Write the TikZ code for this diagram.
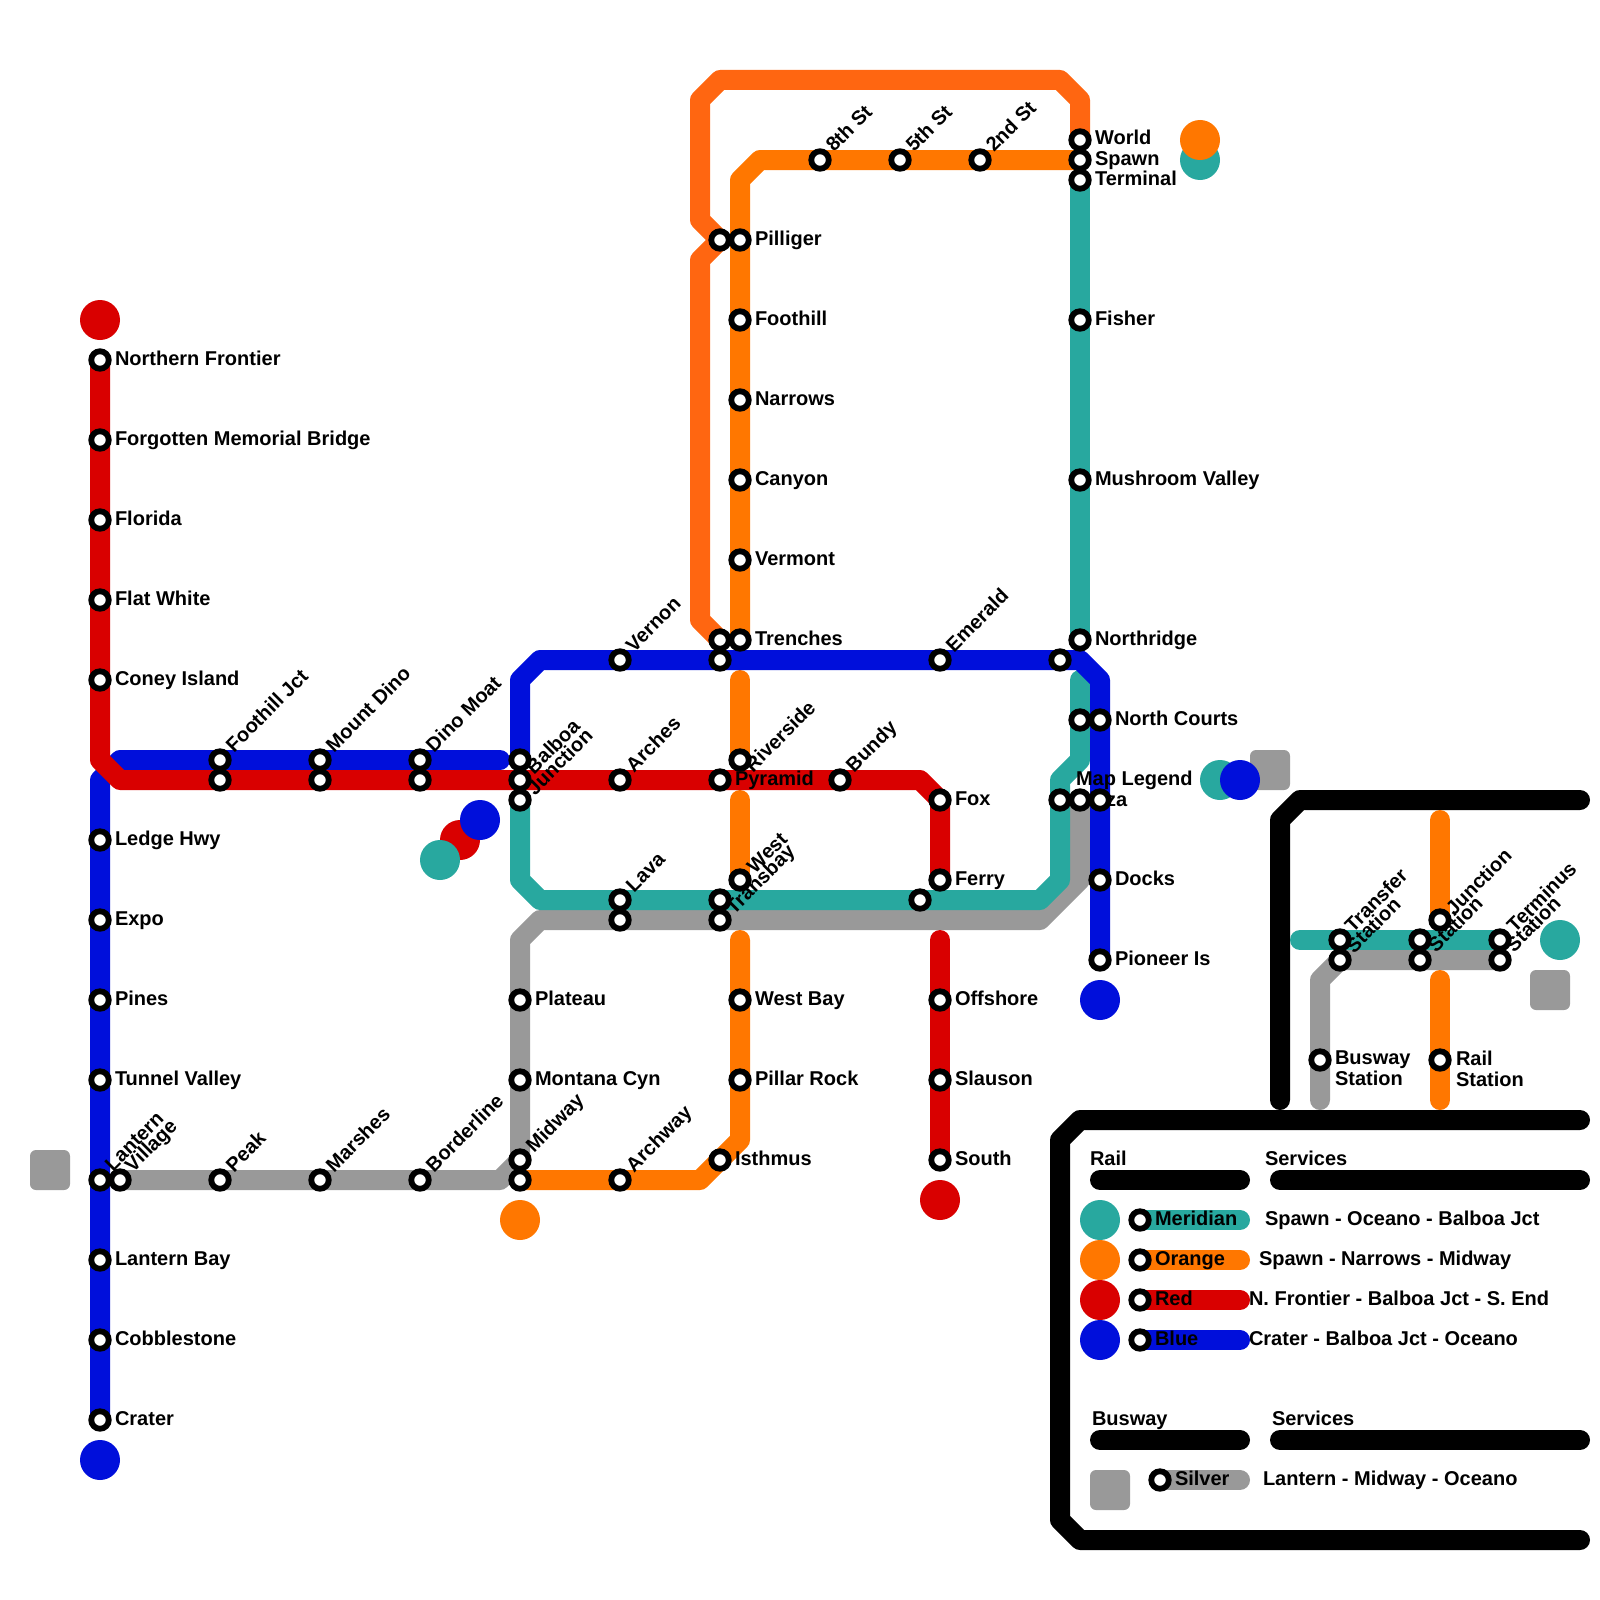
\documentclass[tikz,border=0pt]{standalone}
\usepackage{fontspec}
\setmainfont{Liberation Sans}[BoldFont={Liberation Sans Bold}]
\definecolor{cteal}{HTML}{28A89F}
\definecolor{corange}{HTML}{FF7700}
\definecolor{cdark}{HTML}{FF6611}
\definecolor{cred}{HTML}{D90000}
\definecolor{cblue}{HTML}{000FDB}
\definecolor{cgray}{HTML}{999999}
\pgfdeclarelayer{lines}
\pgfdeclarelayer{stations}
\pgfsetlayers{lines,main,stations}
\tikzset{
  metro/.style={line width=20pt,line cap=round,line join=round},
  stationdot/.style={circle,draw=black,fill=white,line width=5.8pt,minimum size=17.5pt,inner sep=0pt,outer sep=0pt},
  lbl/.style={font=\fontsize{20}{21}\selectfont\bfseries,inner sep=0pt,outer sep=0pt,text=black},
  lblR/.style={lbl,anchor=base west},
  lblD/.style={lbl,anchor=base west,rotate=45},
  endball/.style={circle,fill=#1,minimum size=40pt,inner sep=0pt,outer sep=0pt},
  endsq/.style={rectangle,rounded corners=6pt,fill=cgray,minimum size=40pt,inner sep=0pt,outer sep=0pt}
}
% station only
\newcommand{\stn}[3]{\begin{pgfonlayer}{stations}\node[stationdot] (#1) at (#2,#3) {};\end{pgfonlayer}}
% station with a label on its right
\newcommand{\stnR}[4]{\stn{#1}{#2}{#3}\node[lblR] (#1-l) at (#2+15,#3+5) {#4};}
% station with a diagonal label
\newcommand{\stnD}[4]{\stn{#1}{#2}{#3}\node[lblD] (#1-l) at (#2+14,#3-7) {#4};}
\begin{document}
\begin{tikzpicture}[x=1pt,y=-1pt]
\useasboundingbox (0,0) rectangle (1600,1600);
% Red west
\stnR{nf}{100}{360}{Northern Frontier}
\stnR{fmb}{100}{440}{Forgotten Memorial Bridge}
\stnR{flo}{100}{520}{Florida}
\stnR{flw}{100}{600}{Flat White}
\stnR{con}{100}{680}{Coney Island}
\stnD{fj}{220}{760}{Foothill Jct}
\stn{fjb}{220}{780}
\stnD{md}{320}{760}{Mount Dino}
\stn{mdb}{320}{780}
\stnD{dm}{420}{760}{Dino Moat}
\stn{dmb}{420}{780}
\stn{bal}{520}{760}
\stn{jun}{520}{780}
\stn{bal3}{520}{800}
\node[lblD] (bal-l) at (534,775) {Balboa};
\node[lblD] (jun-l) at (535,796) {Junction};
\stnD{arc}{620}{780}{Arches}
\stnR{pyr}{720}{780}{Pyramid}
\stn{riv}{740}{760}
\node[lblD] (riv-l) at (753,773) {Riverside};
\stnD{bun}{840}{780}{Bundy}
\stnR{fox}{940}{800}{Fox}
\stnR{fer}{940}{880}{Ferry}
\stnR{off}{940}{1000}{Offshore}
\stnR{sla}{940}{1080}{Slauson}
\stnR{sou}{940}{1160}{South}
% Blue
\stnR{led}{100}{840}{Ledge Hwy}
\stnR{exp}{100}{920}{Expo}
\stnR{pin}{100}{1000}{Pines}
\stnR{tun}{100}{1080}{Tunnel Valley}
\stn{lan}{100}{1180}
\node[lblD] (lan-l) at (113,1172) {Lantern};
\stnR{lab}{100}{1260}{Lantern Bay}
\stnR{cob}{100}{1340}{Cobblestone}
\stnR{cra}{100}{1420}{Crater}
\stnD{ver}{620}{660}{Vernon}
\stn{vb}{720}{660}
\stnD{eme}{940}{660}{Emerald}
\stn{nb}{1060}{660}
\stnR{nco}{1100}{720}{North Courts}
\stn{ncb}{1080}{720}
\stnR{doc}{1100}{880}{Docks}
\stnR{pio}{1100}{960}{Pioneer Is}
\stn{pa}{1060}{800}
\stn{pb}{1080}{800}
\stn{pc}{1100}{800}
\node[lbl,anchor=north west,align=left] (plaza-l) at (1076,771) {Map Legend\\Plaza};
% Gray
\stn{vil}{120}{1180}
\node[lblD] (vil-l) at (133,1173) {Village};
\stnD{pea}{220}{1180}{Peak}
\stnD{mar}{320}{1180}{Marshes}
\stnD{bor}{420}{1180}{Borderline}
\stnD{mid}{520}{1160}{Midway}
\stn{midb}{520}{1180}
\stnR{pla}{520}{1000}{Plateau}
\stnR{mon}{520}{1080}{Montana Cyn}
\stnD{lav}{620}{900}{Lava}
\stn{lavb}{620}{920}
\stn{tra}{720}{900}
\stn{trb}{720}{920}
\node[lblD] (tra-l) at (734,915) {Transbay};
\stn{wes}{740}{880}
\node[lblD] (wes-l) at (755,874) {West};
\stn{tb}{920}{900}
% Orange
\stnD{arw}{620}{1180}{Archway}
\stnR{ist}{720}{1160}{Isthmus}
\stnR{wbay}{740}{1000}{West Bay}
\stnR{pil}{740}{1080}{Pillar Rock}
\stnR{pgr}{740}{240}{Pilliger}
\stn{pgl}{720}{240}
\stnR{foo}{740}{320}{Foothill}
\stnR{nar}{740}{400}{Narrows}
\stnR{can}{740}{480}{Canyon}
\stnR{vmt}{740}{560}{Vermont}
\stnR{tre}{740}{640}{Trenches}
\stn{trl}{720}{640}
\stnD{eig}{820}{160}{8th St}
\stnD{fif}{900}{160}{5th St}
\stnD{sec}{980}{160}{2nd St}
\stnR{wor}{1080}{140}{World}
\stnR{spa}{1080}{160}{Spawn}
\stnR{ter}{1080}{180}{Terminal}
\stnR{fis}{1080}{320}{Fisher}
\stnR{mus}{1080}{480}{Mushroom Valley}
\stnR{nor}{1080}{640}{Northridge}
% Legend inset stations
\stn{ta}{1340}{940}
\stn{tab}{1340}{960}
\node[lblD] (ta-l) at (1353,933) {Transfer};
\node[lblD] (ta-m) at (1354,954) {Station};
\stn{sa}{1420}{940}
\stn{sab}{1420}{960}
\stn{ja}{1440}{920}
\node[lblD] (ja-l) at (1454,916) {Junction};
\node[lblD] (ja-m) at (1436,953) {Station};
\stn{tma}{1500}{940}
\stn{tmb}{1500}{960}
\node[lblD] (tm-l) at (1515,933) {Terminus};
\node[lblD] (tm-m) at (1514,953) {Station};
\stn{bus}{1320}{1060}
\node[lbl,anchor=north west,align=left] (bus-l) at (1335,1051) {Busway\\Station};
\stn{rai}{1440}{1060}
\node[lbl,anchor=north west,align=left] (rai-l) at (1456,1051) {Rail\\Station};
% Legend stations
\stn{k1}{1140}{1220}
\stn{k2}{1140}{1260}
\stn{k3}{1140}{1300}
\stn{k4}{1140}{1340}
\stn{k5}{1160}{1480}
\node[lblR] (k1-l) at (1155,1225) {Meridian};
\node[lblR] (k2-l) at (1155,1265) {Orange};
\node[lblR] (k3-l) at (1155,1305) {Red};
\node[lblR] (k4-l) at (1155,1345) {Blue};
\node[lblR] (k5-l) at (1175,1485) {Silver};
\coordinate (k1e) at (1240,1220);
\coordinate (k2e) at (1240,1260);
\coordinate (k3e) at (1240,1300);
\coordinate (k4e) at (1240,1340);
\coordinate (k5e) at (1240,1480);
\node[lblR] (s1) at (1265,1225) {Spawn - Oceano - Balboa Jct};
\node[lblR] (s2) at (1259,1265) {Spawn - Narrows - Midway};
\node[lblR] (s3) at (1249,1305) {N. Frontier - Balboa Jct - S. End};
\node[lblR] (s4) at (1249,1345) {Crater - Balboa Jct - Oceano};
\node[lblR] (s5) at (1263,1485) {Lantern - Midway - Oceano};
\node[lblR] (h1) at (1090,1165) {Rail};
\node[lblR] (h2) at (1265,1165) {Services};
\node[lblR] (h3) at (1092,1425) {Busway};
\node[lblR] (h4) at (1272,1425) {Services};
\begin{pgfonlayer}{lines}
% end markers
\node[endball=cred] (e1) at (100,320) {};
\node[endball=cred] (e2) at (460,840) {};
\node[endball=cblue] (e3) at (480,820) {};
\node[endball=cteal] (e4) at (440,860) {};
\node[endball=cblue] (e5) at (100,1460) {};
\node[endsq] (e6) at (50,1170) {};
\node[endball=corange] (e7) at (520,1220) {};
\node[endball=cred] (e8) at (940,1200) {};
\node[endball=cteal] (e9) at (1200,160) {};
\node[endball=corange] (e10) at (1200,140) {};
\node[endball=cblue] (e11) at (1100,1000) {};
\node[endsq] (e12) at (1270,770) {};
\node[endball=cteal] (e13) at (1220,780) {};
\node[endball=cblue] (e14) at (1240,780) {};
\node[endball=cteal] (e15) at (1560,940) {};
\node[endsq] (e16) at (1550,990) {};
\node[endball=cteal] (l1) at (1100,1220) {};
\node[endball=corange] (l2) at (1100,1260) {};
\node[endball=cred] (l3) at (1100,1300) {};
\node[endball=cblue] (l4) at (1100,1340) {};
\node[endsq] (l5) at (1110,1490) {};
% black frames
\draw[metro,black] (1280,1100) -- (1280,820) -- (1300,800) -- (1580,800);
\draw[metro,black] (1580,1120) -- (1080,1120) -- (1060,1140) -- (1060,1520) -- (1080,1540) -- (1580,1540);
\draw[metro,black] (1100,1180) -- (1240,1180);
\draw[metro,black] (1280,1180) -- (1580,1180);
\draw[metro,black] (1100,1440) -- (1240,1440);
\draw[metro,black] (1280,1440) -- (1580,1440);
% gray
\draw[metro,cgray] (pb.center) -- (1080,880) -- (1040,920) -- (540,920) -- (520,940) -- (mid.center) -- (500,1180) -- (vil.center);
\draw[metro,cgray] (tmb.center) -- (tab.center) -- (1320,980) -- (1320,1100);
\draw[metro,cgray] (k5.center) -- (k5e);
% teal
\draw[metro,cteal] (ter.center) -- (nor.center);
\draw[metro,cteal] (1080,680) -- (1080,760) -- (1060,780) -- (1060,880) -- (1040,900) -- (540,900) -- (520,880) -- (bal3.center);
\draw[metro,cteal] (1300,940) -- (tma.center);
\draw[metro,cteal] (k1.center) -- (k1e);
% dark orange
\draw[metro,cdark] (wor.center) -- (1080,100) -- (1060,80) -- (720,80) -- (700,100) -- (700,220) -- (pgl.center) -- (700,260) -- (700,620) -- (trl.center);
% orange
\draw[metro,corange] (spa.center) -- (760,160) -- (740,180) -- (tre.center);
\draw[metro,corange] (740,680) -- (riv.center);
\draw[metro,corange] (740,800) -- (wes.center);
\draw[metro,corange] (740,940) -- (740,1140) -- (700,1180) -- (midb.center);
\draw[metro,corange] (1440,820) -- (ja.center);
\draw[metro,corange] (1440,980) -- (1440,1100);
\draw[metro,corange] (k2.center) -- (k2e);
% blue
\draw[metro,cblue] (cra.center) -- (100,780) -- (120,760) -- (500,760);
\draw[metro,cblue] (bal.center) -- (520,680) -- (540,660) -- (1080,660) -- (1100,680) -- (pio.center);
\draw[metro,cblue] (k4.center) -- (k4e);
% red
\draw[metro,cred] (nf.center) -- (100,760) -- (120,780) -- (920,780) -- (fox.center) -- (fer.center);
\draw[metro,cred] (940,940) -- (sou.center);
\draw[metro,cred] (k3.center) -- (k3e);
\end{pgfonlayer}
\end{tikzpicture}
\end{document}
